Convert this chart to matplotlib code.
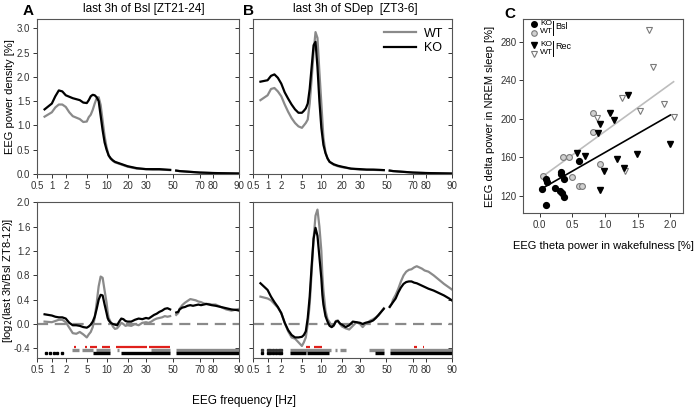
import numpy as np
import matplotlib
matplotlib.use("Agg")
import matplotlib.pyplot as plt

plt.rcParams['font.family'] = ['Liberation Sans', 'DejaVu Sans']

GRAY = '#8a8a8a'
RED = '#e0201b'
NAN = np.nan

# ---- spectra, top row (power density %) ----
f_top = [0.75, 1.0, 1.25, 1.5, 1.75, 2.0, 2.5, 3.0, 3.5, 4.0, 4.5, 5.0, 5.5, 6.0, 6.5, 7.0,
         7.5, 8.0, 8.5, 9.0, 9.5, 10, 11, 12, 13, 14, 16, 18, 20, 25, 30, 35, 40, 45, 48,
         50, 52.5, 55, 60, 70, 80, 90]
a_ko_top = [1.33, 1.45, 1.60, 1.72, 1.70, 1.62, 1.59, 1.56, 1.54, 1.52, 1.47, 1.46, 1.52, 1.60,
            1.63, 1.62, 1.58, 1.50, 1.20, 0.90, 0.65, 0.50, 0.38, 0.32, 0.28, 0.25, 0.22, 0.19,
            0.16, 0.12, 0.10, 0.10, 0.10, 0.09, 0.085, NAN, 0.07, 0.06, 0.05, 0.03, 0.02, 0.01]
a_wt_top = [1.18, 1.27, 1.37, 1.43, 1.43, 1.38, 1.27, 1.19, 1.16, 1.13, 1.07, 1.08, 1.17, 1.22,
            1.32, 1.45, 1.56, 1.58, 1.42, 1.10, 0.78, 0.55, 0.38, 0.31, 0.27, 0.24, 0.21, 0.18,
            0.15, 0.11, 0.10, 0.09, 0.09, 0.085, 0.08, NAN, 0.07, 0.06, 0.05, 0.03, 0.02, 0.01]
b_ko_top = [1.90, 1.93, 2.02, 2.05, 1.98, 1.86, 1.68, 1.55, 1.43, 1.33, 1.26, 1.26, 1.30, 1.35,
            1.45, 1.75, 2.20, 2.65, 2.72, 2.20, 1.50, 0.95, 0.60, 0.43, 0.32, 0.25, 0.20, 0.17,
            0.15, 0.11, 0.10, 0.09, 0.09, 0.085, 0.08, NAN, 0.07, 0.06, 0.05, 0.03, 0.02, 0.01]
b_wt_top = [1.52, 1.62, 1.75, 1.77, 1.70, 1.60, 1.43, 1.28, 1.15, 1.05, 0.98, 0.95, 1.00, 1.05,
            1.12, 1.45, 1.95, 2.50, 2.92, 2.80, 2.10, 1.45, 0.75, 0.45, 0.32, 0.25, 0.19, 0.16,
            0.14, 0.11, 0.09, 0.09, 0.085, 0.08, 0.08, NAN, 0.07, 0.06, 0.05, 0.03, 0.02, 0.01]

# ---- log2 ratio, bottom row ----
f_low = [0.75, 1.0, 1.25, 1.5, 1.75, 2.0, 2.5, 3.0, 3.5, 4.0, 4.5, 5.0, 5.5, 6.0, 6.5, 7.0, 7.5,
         8.0, 8.5, 9.0, 9.5, 10, 10.5, 11, 12, 13, 14, 15, 16, 17, 18, 19, 20, 22, 24, 26, 28, 30,
         32, 34, 36, 38, 40, 42, 44, 46, 48, 50, 52.5, 54, 55, 57, 59, 61, 63, 65, 67, 69, 71, 73,
         75, 77, 79, 81, 83, 85, 87, 89, 90]
a_ko_low = [0.16, 0.14, 0.12, 0.11, 0.11, 0.09, 0.02, -0.02, -0.02, -0.03, -0.05, -0.06, -0.04,
            -0.01, 0.04, 0.12, 0.25, 0.40, 0.48, 0.47, 0.32, 0.18, 0.10, 0.06, 0.02, 0.00, -0.01,
            -0.02, 0.04, 0.09, 0.08, 0.05, 0.04, 0.04, 0.07, 0.09, 0.08, 0.10, 0.09, 0.12, 0.15,
            0.17, 0.20, 0.22, 0.25, 0.26, 0.24, NAN, 0.19, 0.20, 0.24, 0.27, 0.28, 0.30, 0.31,
            0.30, 0.31, 0.32, 0.31, 0.32, 0.33, 0.32, 0.31, 0.30, 0.28, 0.26, 0.24, 0.23, 0.22]
a_wt_low = [0.04, 0.03, 0.05, 0.07, 0.07, 0.03, -0.06, -0.15, -0.16, -0.13, -0.17, -0.22, -0.17,
            -0.13, -0.05, 0.10, 0.35, 0.62, 0.78, 0.76, 0.55, 0.35, 0.20, 0.10, 0.03, -0.04,
            -0.08, -0.07, -0.03, 0.02, 0.00, -0.03, -0.02, -0.03, 0.00, -0.02, 0.02, 0.03, 0.02,
            0.04, 0.07, 0.09, 0.10, 0.11, 0.13, 0.12, 0.13, NAN, 0.15, 0.18, 0.25, 0.31, 0.35,
            0.38, 0.41, 0.40, 0.39, 0.37, 0.36, 0.34, 0.33, 0.33, 0.32, 0.32, 0.28, 0.24, 0.22,
            0.24, 0.25]
b_ko_low = [0.67, 0.56, 0.45, 0.36, 0.28, 0.18, 0.02, -0.10, -0.18, -0.22, -0.22, -0.21, -0.18,
            -0.12, 0.10, 0.45, 0.95, 1.40, 1.58, 1.45, 1.10, 0.75, 0.48, 0.32, 0.13, 0.04, -0.03,
            -0.05, -0.02, 0.04, 0.05, 0.01, -0.01, -0.05, -0.02, 0.04, 0.03, 0.02, 0.00, 0.02,
            0.03, 0.04, 0.06, 0.10, 0.15, 0.20, 0.25, NAN, 0.28, 0.33, 0.36, 0.42, 0.52, 0.60,
            0.66, 0.69, 0.70, 0.70, 0.68, 0.67, 0.65, 0.63, 0.61, 0.58, 0.55, 0.51, 0.47, 0.42,
            0.39]
b_wt_low = [0.45, 0.42, 0.39, 0.33, 0.27, 0.18, 0.02, -0.12, -0.22, -0.24, -0.30, -0.36, -0.30,
            -0.22, 0.00, 0.32, 0.85, 1.40, 1.78, 1.88, 1.60, 1.20, 0.80, 0.55, 0.22, 0.08, 0.03,
            -0.05, -0.03, 0.05, 0.06, 0.00, -0.04, -0.07, -0.09, -0.03, 0.03, 0.00, -0.05, 0.00,
            0.03, 0.06, 0.08, 0.11, 0.14, 0.20, 0.26, NAN, 0.29, 0.33, 0.40, 0.48, 0.58, 0.70,
            0.80, 0.86, 0.89, 0.90, 0.93, 0.95, 0.93, 0.91, 0.88, 0.86, 0.80, 0.73, 0.66, 0.60,
            0.57]

# significance bars (Hz ranges) and dots
a_red = [(3.2, 3.4), (4.8, 5.0), (5.8, 7.6), (8.8, 11.5), (14.5, 31), (32, 48)]
a_gray = [(2.9, 3.9), (4.3, 6.5), (7.3, 11.5), (15, 16), (34, 48), (52.5, 90)]
a_black = [(6.5, 11.5), (16.8, 48), (52.5, 90)]
a_dots = [0.8, 0.95, 1.15, 1.4, 1.75]
b_red = [(6.0, 7.0), (8.0, 10.5), (71, 73), (77.5, 78.5)]
b_gray = [(3.3, 14.5), (16.5, 17.5), (19, 22), (37, 48), (52.5, 90)]
b_black = [(3.3, 6.0), (6.2, 13.5), (41, 48), (52.5, 90)]
b_dots = [0.8, 1.0, 1.2, 1.4, 1.6, 1.8, 2.0]

# ---- panel C scatter ----
ko_bsl_x = [0.04, 0.10, 0.12, 0.10, 0.23, 0.31, 0.32, 0.32, 0.34, 0.37, 0.38, 0.60]
ko_bsl_y = [126.6, 137, 134.5, 110.3, 127.6, 125.2, 145, 142.5, 122.4, 118.3, 137.3, 156]
wt_bsl_x = [0.05, 0.36, 0.45, 0.49, 0.61, 0.65, 0.82, 0.82, 0.93]
wt_bsl_y = [140.8, 160.5, 160.2, 139, 130.4, 130.4, 186, 205.5, 152.9]
ko_rec_x = [0.57, 0.70, 0.92, 0.90, 0.92, 0.99, 1.07, 1.14, 1.19, 1.29, 1.35, 1.49, 2.00]
ko_rec_y = [164, 161.2, 194.5, 184.8, 125.9, 145.6, 205.5, 198.6, 157.7, 148.4, 224.6, 163.3, 173.3]
wt_rec_x = [0.88, 1.26, 1.31, 1.53, 1.68, 1.74, 1.90, 2.05]
wt_rec_y = [200.3, 221.1, 146, 207.6, 292.1, 254, 215.2, 202.1]
ko_fit_x = [0.04, 2.00]
ko_fit_y = [127.6, 203.8]
wt_fit_x = [0.04, 2.05]
wt_fit_y = [139.7, 238.4]

# x axis of the spectra: piecewise scale through the tick frequencies
hz_ticks = [0.5, 1, 2, 5, 10, 20, 30, 50, 70, 80, 90]
hz_labels = ['0.5', '1', '2', '5', '10', '20', '30', '50', '70', '80', '90']
_frac = [0, 0.072, 0.141, 0.245, 0.343, 0.447, 0.538, 0.671, 0.804, 0.870, 1.0]


def _pw(x, xs, ys):
    x = np.asarray(x, dtype=float)
    y = np.interp(x, xs, ys)
    lo = ys[0] + (x - xs[0]) * (ys[1] - ys[0]) / (xs[1] - xs[0])
    hi = ys[-1] + (x - xs[-1]) * (ys[-1] - ys[-2]) / (xs[-1] - xs[-2])
    y = np.where(x < xs[0], lo, y)
    y = np.where(x > xs[-1], hi, y)
    return y


def fwd(x):
    return _pw(x, hz_ticks, _frac)


def inv(y):
    return _pw(y, _frac, hz_ticks)


fig = plt.figure(figsize=(6.95, 4.11), dpi=100)
W, H = 695.0, 411.0


def add_ax(l, t, r, b):
    return fig.add_axes([l / W, 1 - b / H, (r - l) / W, (b - t) / H])


axA = add_ax(37.3, 19, 239.3, 174)
axB = add_ax(253.3, 19, 451.7, 174)
axA2 = add_ax(37.3, 202.3, 239.3, 357.7)
axB2 = add_ax(253.3, 202.3, 451.7, 357.7)
axC = add_ax(523.3, 19, 682.7, 213.3)


def style(ax, yticks, ylim, showlabels):
    ax.set_xscale('function', functions=(fwd, inv))
    ax.set_xlim(0.5, 90)
    ax.set_xticks(hz_ticks)
    ax.set_xticklabels(hz_labels)
    ax.set_ylim(*ylim)
    ax.set_yticks(yticks)
    if showlabels:
        ax.set_yticklabels(['%.1f' % v for v in yticks])
    else:
        ax.set_yticklabels([])
    ax.minorticks_off()
    ax.tick_params(axis='both', direction='out', length=3, width=0.7, labelsize=7,
                   colors='#333333', pad=2)
    sec = ax.secondary_yaxis('right')
    sec.set_yticks(yticks)
    sec.set_yticklabels([])
    sec.tick_params(direction='in', length=3, width=0.7, colors='#333333')
    sec.spines['right'].set_visible(False)
    for s in ax.spines.values():
        s.set_color('#555555')
        s.set_linewidth(0.8)


top_ticks = [0.0, 0.5, 1.0, 1.5, 2.0, 2.5, 3.0]
low_ticks = [-0.4, 0.0, 0.4, 0.8, 1.2, 1.6, 2.0]

for ax, ko, wt, lab in [(axA, a_ko_top, a_wt_top, True), (axB, b_ko_top, b_wt_top, False)]:
    ax.plot(f_top, wt, color=GRAY, lw=1.6, label='WT')
    ax.plot(f_top, ko, color='black', lw=1.6, label='KO')
    style(ax, top_ticks, (0, 3.19), lab)

axB.legend(loc='upper right', frameon=False, fontsize=9, handlelength=2.6,
           borderaxespad=0.3, labelspacing=0.2, handletextpad=0.6)

for ax, ko, wt, red, gray, black, dots, lab in [
        (axA2, a_ko_low, a_wt_low, a_red, a_gray, a_black, a_dots, True),
        (axB2, b_ko_low, b_wt_low, b_red, b_gray, b_black, b_dots, False)]:
    ax.axhline(0, color=GRAY, lw=1.6, ls=(0, (5, 3)))
    ax.plot(f_low, wt, color=GRAY, lw=1.6)
    ax.plot(f_low, ko, color='black', lw=1.6)
    for s, e in red:
        ax.hlines(-0.37, s, e, color=RED, lw=1.6)
    for s, e in gray:
        ax.hlines(-0.42, s, e, color=GRAY, lw=2.4)
    for s, e in black:
        ax.hlines(-0.47, s, e, color='black', lw=2.4)
    ax.plot(dots, [-0.47] * len(dots), ls='none', marker='s', ms=1.8, color='black')
    if ax is axB2:
        ax.plot(dots, [-0.42] * len(dots), ls='none', marker='s', ms=1.8, color='#333333')
    style(ax, low_ticks, (-0.553, 2.0), lab)

axA.yaxis.set_label_coords(-0.112, 0.5)
axA.set_ylabel('EEG power density [%]', fontsize=8)
axA2.yaxis.set_label_coords(-0.112, 0.5)
axA2.set_ylabel('[log$_2$(last 3h/Bsl ZT8-12)]', fontsize=8)

fig.text(244 / W, 1 - 401 / H, 'EEG frequency [Hz]', ha='center', va='center', fontsize=8.5)
fig.text(143.5 / W, 1 - 9 / H, 'last 3h of Bsl [ZT21-24]', ha='center', va='center', fontsize=8.5)
fig.text(355.6 / W, 1 - 9 / H, 'last 3h of SDep  [ZT3-6]', ha='center', va='center', fontsize=8.5)
fig.text(28 / W, 1 - 11 / H, 'A', ha='center', va='center', fontsize=11, fontweight='bold')
fig.text(248 / W, 1 - 11 / H, 'B', ha='center', va='center', fontsize=11, fontweight='bold')
fig.text(510 / W, 1 - 14 / H, 'C', ha='center', va='center', fontsize=11, fontweight='bold')

# ---- panel C ----
axC.plot(wt_fit_x, wt_fit_y, color='#bdbdbd', lw=1.2)
axC.plot(ko_fit_x, ko_fit_y, color='black', lw=1.2)
axC.plot(wt_bsl_x, wt_bsl_y, ls='none', marker='o', ms=4.2, mfc='#d0d0d0', mec='#7a7a7a', mew=0.8)
axC.plot(ko_bsl_x, ko_bsl_y, ls='none', marker='o', ms=4.2, mfc='black', mec='black')
axC.plot(wt_rec_x, wt_rec_y, ls='none', marker='v', ms=4.5, mfc='white', mec='#7a7a7a', mew=0.8)
axC.plot(ko_rec_x, ko_rec_y, ls='none', marker='v', ms=4.5, mfc='black', mec='black')
axC.set_xlim(-0.25, 2.19)
axC.set_ylim(101.7, 303.6)
axC.set_xticks([0.0, 0.5, 1.0, 1.5, 2.0])
axC.set_xticklabels(['0.0', '0.5', '1.0', '1.5', '2.0'])
axC.set_yticks([120, 160, 200, 240, 280])
axC.tick_params(axis='both', direction='out', length=3, width=0.7, labelsize=7,
                colors='#333333', pad=2)
for s in axC.spines.values():
    s.set_color('#555555')
    s.set_linewidth(0.8)
axC.set_xlabel('EEG theta power in wakefulness [%]', fontsize=8, labelpad=8)
axC.yaxis.set_label_coords(-0.175, 0.5)
axC.set_ylabel('EEG delta power in NREM sleep [%]', fontsize=8)

# legend of panel C
tr = axC.transAxes
axC.plot([0.067], [0.972], transform=tr, ls='none', marker='o', ms=4, mfc='black', mec='black')
axC.plot([0.067], [0.927], transform=tr, ls='none', marker='o', ms=4, mfc='#d0d0d0', mec='#7a7a7a', mew=0.8)
axC.plot([0.067], [0.865], transform=tr, ls='none', marker='v', ms=4, mfc='black', mec='black')
axC.plot([0.067], [0.822], transform=tr, ls='none', marker='v', ms=4, mfc='white', mec='#7a7a7a', mew=0.8)
for y, t in [(0.976, 'KO'), (0.936, 'WT'), (0.870, 'KO'), (0.830, 'WT')]:
    axC.text(0.105, y, t, transform=tr, fontsize=6, va='center', ha='left')
axC.plot([0.184, 0.184], [0.918, 0.992], transform=tr, color='black', lw=0.7)
axC.plot([0.184, 0.184], [0.812, 0.886], transform=tr, color='black', lw=0.7)
axC.text(0.199, 0.962, 'Bsl', transform=tr, fontsize=6.5, va='center', ha='left')
axC.text(0.199, 0.856, 'Rec', transform=tr, fontsize=6.5, va='center', ha='left')

fig.savefig('out.png', dpi=100)
